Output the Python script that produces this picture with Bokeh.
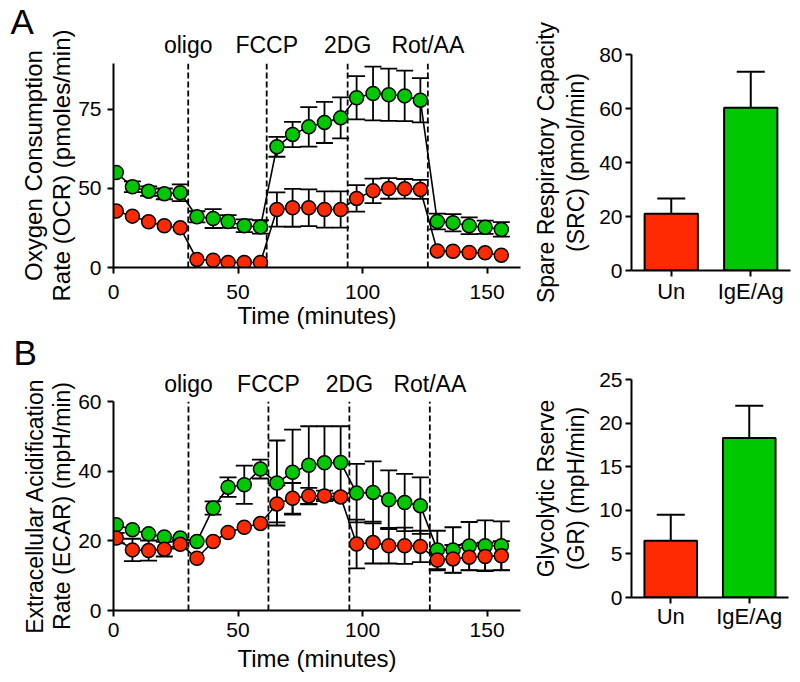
from bokeh.plotting import figure
from bokeh.models import Range1d, FactorRange, FixedTicker, LinearAxis, Title
from bokeh.layouts import row, column
from bokeh.embed import file_html
from bokeh.resources import INLINE

# ---------------- data ----------------
time_min = [1.1, 7.6, 14.1, 20.4, 26.8, 33.5, 40.0, 46.0, 52.5, 59.0, 65.6, 71.9,
            78.4, 84.7, 91.2, 97.6, 104.2, 110.5, 116.9, 123.2, 130.0, 136.3,
            142.8, 149.2, 155.7]
drug_names = ["oligo", "FCCP", "2DG", "Rot/AA"]
ocr_injections = [30.0, 61.5, 94.0, 126.2]
ecar_injections = [30.1, 62.2, 94.7, 127.0]

# OCR (axis units: tick "75" sits where 100 would be on a linear scale)
ocr_un = [35.7, 32.5, 28.9, 26.4, 25.1, 5.1, 4.6, 3.2, 3.2, 3.2, 36.7, 37.8, 37.8,
          36.7, 36.7, 43.7, 48.5, 50.0, 49.8, 49.4, 10.5, 10.3, 9.5, 9.3, 7.8]
ocr_un_err = [0, 0, 0, 0, 0, 0, 0, 0, 0, 0, 10.8, 12.0, 11.6, 11.5, 11.5, 8.4, 7.8,
              6.5, 6.2, 6.0, 0, 0, 0, 0, 0]
ocr_ige = [60.1, 51.1, 48.3, 46.6, 47.3, 32.1, 31.0, 29.1, 26.4, 25.7, 76.4, 84.2,
           89.0, 91.8, 94.7, 107.4, 110.1, 109.3, 108.6, 105.9, 29.1, 28.3, 26.4,
           25.5, 24.1]
ocr_ige_err = [0, 3.4, 3.0, 3.4, 5.3, 3.5, 6.0, 4.0, 4.0, 4.2, 6.3, 8.0, 12.5, 13.0,
               13.0, 13.7, 17.0, 16.5, 16.0, 14.0, 5.0, 5.5, 5.3, 4.2, 4.6]
ocr_tick_values = [0, 50, 100]
ocr_tick_labels = ["0", "50", "75"]

# ECAR
ecar_un = [20.8, 17.4, 17.2, 17.6, 19.0, 15.0, 19.8, 22.4, 23.9, 25.0, 30.6, 32.2,
           32.9, 32.9, 32.6, 19.1, 19.5, 18.6, 18.6, 18.4, 14.5, 14.8, 15.3, 15.5, 15.7]
ecar_un_err = [1.5, 3.2, 2.9, 2.1, 1.2, 0, 0, 0, 0, 0, 5.3, 4.4, 2.3, 1.5, 1.0, 7.0,
               6.0, 5.1, 5.2, 4.5, 3.0, 4.0, 3.8, 4.0, 4.2]
ecar_ige = [24.6, 23.2, 22.0, 21.1, 20.8, 19.8, 29.4, 35.4, 36.1, 40.6, 36.6, 39.7,
            41.7, 42.4, 42.5, 33.7, 33.9, 31.8, 31.0, 30.1, 17.4, 17.4, 18.5, 18.6, 18.6]
ecar_ige_err = [0, 0, 0, 0, 0, 0, 1.9, 2.8, 5.5, 2.7, 12.2, 12.2, 11.2, 10.5, 10.4,
                8.4, 8.9, 8.4, 8.2, 8.1, 5.5, 6.5, 6.9, 7.3, 7.0]
ecar_ticks = [0, 20, 40, 60]
time_ticks = [0, 50, 100, 150]

# bar charts
groups = ["Un", "IgE/Ag"]
src_mean = [21.0, 60.3]
src_err = [5.7, 13.3]
src_ticks = [0, 20, 40, 60, 80]
gr_mean = [6.5, 18.3]
gr_err = [3.0, 3.7]
gr_ticks = [0, 5, 10, 15, 20, 25]

# ---------------- style ----------------
RED = "#ff2a00"
GREEN = "#00c800"
FONT = "Liberation Sans"
TICK_FS = "21px"


def style_axes(p, tick_standoff_x, tick_standoff_y, lab_fs):
    for ax in p.axis:
        ax.axis_line_color = "black"
        ax.axis_line_width = 2
        ax.major_tick_line_color = "black"
        ax.major_tick_line_width = 2
        ax.major_tick_out = 6
        ax.major_tick_in = 0
        ax.minor_tick_line_color = None
        ax.major_label_text_font = FONT
        ax.major_label_text_font_size = TICK_FS
        ax.major_label_text_color = "black"
        ax.axis_label_text_font = FONT
        ax.axis_label_text_font_style = "normal"
        ax.axis_label_text_color = "black"
        ax.axis_label_text_font_size = lab_fs
    p.xaxis.major_label_standoff = tick_standoff_x
    p.yaxis.major_label_standoff = tick_standoff_y
    p.xgrid.grid_line_color = None
    p.ygrid.grid_line_color = None
    p.outline_line_color = None
    p.background_fill_color = "white"
    p.border_fill_color = "white"


def add_errors(p, t, y, err, cap):
    idx = [i for i, e in enumerate(err) if e > 0]
    tt = [t[i] for i in idx]
    lo = [y[i] - err[i] for i in idx]
    hi = [y[i] + err[i] for i in idx]
    p.segment(tt, lo, tt, hi, line_color="black", line_width=1.8)
    p.scatter(tt + tt, lo + hi, marker="dash", size=cap, line_color="black",
              line_width=1.8)


def time_panel(height, xr, yr, series, injections, yticks, ylabels, border,
               ylabel, ylab_fs, letter, letter_offset, letter_standoff,
               tick_sx, xlab_sx, drug_sx):
    p = figure(width=530, height=height, x_range=Range1d(*xr),
               y_range=Range1d(*yr), output_backend="svg",
               toolbar_location=None, title=None, min_border_left=border[0],
               min_border_right=border[1], min_border_top=border[2],
               min_border_bottom=border[3])
    # injection lines
    p.segment(injections, [yr[0]] * len(injections), injections,
              [yr[1]] * len(injections), line_color="black",
              line_width=1.8, line_dash="6 3")
    for (y, e, c) in series:
        add_errors(p, time_min, y, e, 17)
    for (y, e, c) in series:
        p.line(time_min, y, line_color="black", line_width=1.6)
    for (y, e, c) in series:
        p.scatter(time_min, y, size=14, fill_color=c, line_color="black",
                  line_width=1.5)
    p.xaxis.ticker = FixedTicker(ticks=time_ticks)
    p.yaxis.ticker = FixedTicker(ticks=yticks)
    if ylabels is not None:
        p.yaxis.major_label_overrides = {v: s for v, s in zip(yticks, ylabels)}
    p.xaxis.axis_label = "Time (minutes)"
    p.yaxis.axis_label = ylabel
    style_axes(p, tick_sx, 6, ylab_fs)
    p.xaxis.axis_label_text_font_size = "24px"
    p.xaxis.axis_label_standoff = xlab_sx
    p.yaxis.axis_label_standoff = 0
    p.yaxis.axis_label_text_line_height = 1.05
    # drug labels as an unlined axis above the frame
    drug_axis = LinearAxis(ticker=FixedTicker(ticks=injections),
                           major_label_overrides={v: s for v, s in
                                                  zip(injections, drug_names)},
                           axis_line_color=None, major_tick_line_color=None,
                           major_tick_out=0, major_tick_in=0,
                           minor_tick_line_color=None, minor_tick_out=0,
                           major_label_standoff=drug_sx,
                           major_label_text_font=FONT,
                           major_label_text_font_size="23px",
                           major_label_text_color="black")
    p.add_layout(drug_axis, "above")
    # panel letter as the plot title, pulled to the far left
    p.title = Title(text=letter, align="left", offset=letter_offset,
                    standoff=letter_standoff, text_font=FONT,
                    text_font_size="35px", text_font_style="normal",
                    text_color="black")
    return p


def bar_panel(height, means, errs, yr, ticks, border, ylabel, tick_sx):
    p = figure(width=262, height=height, x_range=FactorRange(*groups),
               y_range=Range1d(*yr), output_backend="svg",
               toolbar_location=None, title=None, min_border_left=border[0],
               min_border_right=border[1], min_border_top=border[2],
               min_border_bottom=border[3])
    p.x_range.range_padding = 0
    p.vbar(x=groups, top=means, width=0.67, fill_color=[RED, GREEN],
           line_color="black", line_width=2)
    tops = [m + e for m, e in zip(means, errs)]
    p.segment(groups, means, groups, tops, line_color="black", line_width=2)
    p.scatter(groups, tops, marker="dash", size=28, line_color="black",
              line_width=2)
    p.yaxis.ticker = FixedTicker(ticks=ticks)
    p.yaxis.axis_label = ylabel
    style_axes(p, tick_sx, 3, "23px")
    p.yaxis.axis_label_standoff = 7
    p.yaxis.axis_label_text_line_height = 1.15
    p.xaxis.major_label_text_font_size = "22px"
    return p


p1 = time_panel(333, (0, 163.4), (0, 129.1),
                [(ocr_ige, ocr_ige_err, GREEN), (ocr_un, ocr_un_err, RED)],
                ocr_injections, ocr_tick_values, ocr_tick_labels,
                (113, 10, 63, 66),
                "Oxygen Consumption\nRate (OCR) (pmoles/min)", "24px",
                "A", -103, -24, 11, 0, 6)

p3 = time_panel(342, (0, 163.4), (0, 60.0),
                [(ecar_ige, ecar_ige_err, GREEN), (ecar_un, ecar_un_err, RED)],
                ecar_injections, ecar_ticks, None,
                (113, 10, 68, 65),
                "Extracellular Acidification\nRate (ECAR) (mpH/min)", "23px",
                "B", -100, -8, 6, 5, 5)

p2 = bar_panel(333, src_mean, src_err, (0, 80), src_ticks, (96, 2, 54, 63),
               "Spare Respiratory Capacity\n(SRC) (pmol/min)", 2)

p4 = bar_panel(342, gr_mean, gr_err, (0, 25), gr_ticks, (96, 4, 46, 78),
               "Glycolytic Rserve\n(GR) (mpH/min)", 0)

layout = column(row(p1, column(p2)), row(p3, column(p4)))

open("out.html", "w").write(file_html(layout, INLINE))
